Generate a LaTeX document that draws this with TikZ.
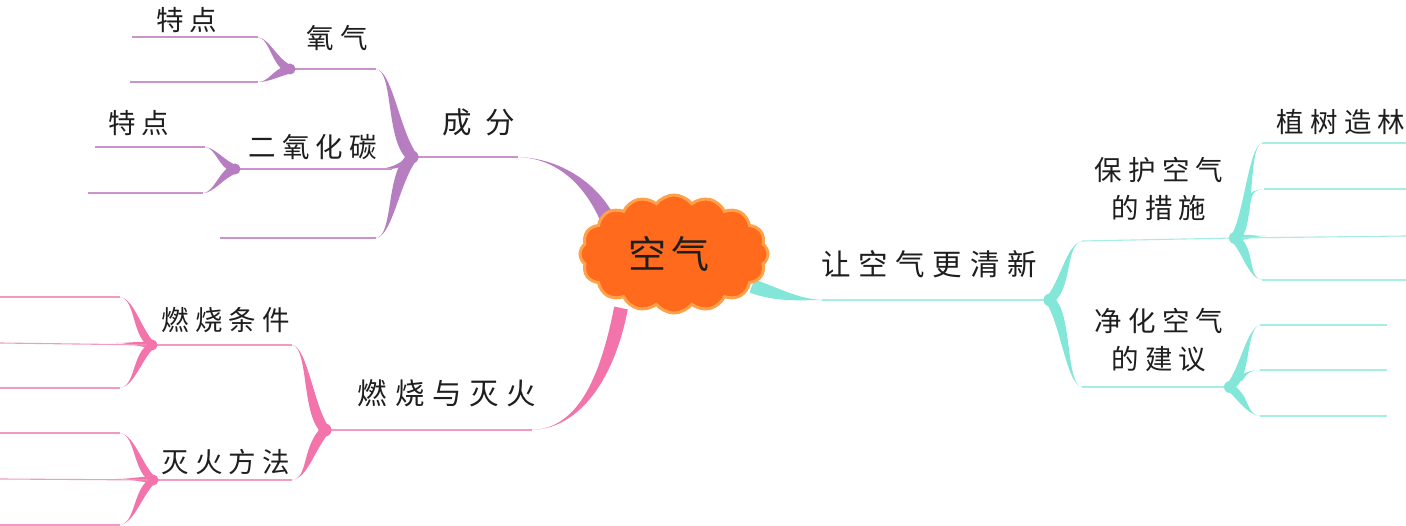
\documentclass[tikz,border=0pt]{standalone}
\usepackage{fontspec}
\usetikzlibrary{calc,shapes.symbols}
\newfontfamily\cjk[LetterSpace=22]{Noto Sans CJK SC}
\newfontfamily\cjkm[LetterSpace=26]{Noto Sans CJK SC}
\newfontfamily\cjkw[LetterSpace=45]{Noto Sans CJK SC}
\newfontfamily\cjkc[LetterSpace=15]{Noto Sans CJK SC}
\definecolor{pur}{HTML}{B77DC1}
\definecolor{purl}{HTML}{C894C9}
\definecolor{pnk}{HTML}{F274AA}
\definecolor{pnkl}{HTML}{F29AC3}
\definecolor{cyn}{HTML}{82E6D8}
\definecolor{cynl}{HTML}{A6EDE3}
\definecolor{orf}{HTML}{FF6A1C}
\definecolor{ore}{HTML}{FFA04A}
\definecolor{txt}{HTML}{1E1E1E}
\newcommand\arm[5]{\fill ($(#1)+(#5)$) .. controls ($(#2)+(#5)$) and (#3) .. (#4) .. controls (#3) and ($(#2)-(#5)$) .. ($(#1)-(#5)$) -- cycle;}
\tikzset{
  lab/.style={font=\cjk\fontsize{27.5}{38}\selectfont, text=txt, inner sep=0pt, align=center},
  mainlab/.style={font=\cjkm\fontsize{29.5}{34}\selectfont, text=txt, inner sep=0pt},
  thin/.style={line width=1.1pt},
  blob/.style={radius=6.5}
}
\begin{document}
\begin{tikzpicture}[x=1pt,y=-1pt]
\useasboundingbox (0,0) rectangle (1406,526);
\fill[white] (0,0) rectangle (1406,526);

% ---------- coordinates ----------
\coordinate (bP) at (412,157);
\coordinate (bO) at (290,69);
\coordinate (bC) at (235,169);
\coordinate (bF) at (325,430);
\coordinate (bR) at (152,345);
\coordinate (bM) at (153,480);
\coordinate (bG) at (1050,300);
\coordinate (bS1) at (1235,238);
\coordinate (bS2) at (1230,387);

% ---------- purple branch ----------
\begin{scope}[fill=pur, draw=purl]
  \draw[thin] (bP) -- (518,157);
  \arm{612,230}{598,190}{562,157}{515,157}{7,-2.7}
  \arm{bP}{393,135}{393,71}{376,69}{7,0}
  \arm{bP}{393,178}{393,236}{376,238}{7,0}
  \arm{bP}{398,168}{390,169}{374,169}{0,3}
  \draw[thin] (bO) -- (376,69);
  \draw[thin] (bC) -- (392,169);
  \draw[thin] (376,238) -- (220,238);
  \fill (bP) circle[blob];
  % oxygen
  \arm{bO}{275,64}{270,39}{258,37}{3,-3}
  \arm{bO}{275,73}{269,82}{258,82}{2,4}
  \draw[thin] (258,37) -- (132,37);
  \draw[thin] (258,82) -- (130,82);
  \fill (bO) circle[radius=5.5];
  % carbon dioxide
  \arm{bC}{221,164}{216,148}{205,147}{3,-3}
  \arm{bC}{221,174}{214,193}{203,193}{2,4}
  \draw[thin] (205,147) -- (95,147);
  \draw[thin] (203,193) -- (88,193);
  \fill (bC) circle[radius=5.5];
\end{scope}

% ---------- pink branch ----------
\begin{scope}[fill=pnk, draw=pnkl]
  \draw[thin] (bF) -- (532,430);
  \arm{621,308}{606,385}{575,430}{530,430}{6.8,1.4}
  \arm{bF}{308,410}{308,347}{292,345}{6,0}
  \arm{bF}{308,450}{308,478}{292,480}{6,0}
  \draw[thin] (292,345) -- (bR);
  \draw[thin] (292,480) -- (bM);
  \fill (bF) circle[blob];
  % burning conditions
  \arm{bR}{137,333}{135,299}{120,297}{5,0}
  \arm{bR}{137,357}{135,386}{120,388}{5,0}
  \arm{bR}{140,344}{130,343}{116,343}{0,3}
  \draw[thin] (120,297) -- (0,297);
  \draw[thin] (bR) -- (0,343);
  \draw[thin] (120,388) -- (0,388);
  \fill (bR) circle[radius=5.5];
  % extinguishing methods
  \arm{bM}{138,468}{135,435}{120,433}{5,0}
  \arm{bM}{138,492}{135,523}{120,525}{5,0}
  \arm{bM}{141,479}{131,479}{116,479}{0,3}
  \draw[thin] (120,433) -- (0,433);
  \draw[thin] (bM) -- (0,479);
  \draw[thin] (120,525) -- (0,525);
  \fill (bM) circle[radius=5.5];
\end{scope}

% ---------- cyan branch ----------
\begin{scope}[fill=cyn, draw=cynl]
  \draw[thin] (822,300) -- (bG);
  \arm{752,286}{780,296}{800,300}{826,300}{-2.4,6.6}
  \arm{bG}{1066,284}{1066,244}{1082,241}{6,0}
  \arm{bG}{1066,318}{1066,385}{1082,387}{6,0}
  \draw[thin] (1082,241) -- (bS1);
  \draw[thin] (1082,387) -- (bS2);
  \fill (bG) circle[blob];
  % protection measures
  \arm{bS1}{1249,225}{1248,146}{1262,143}{6,0}
  \arm{bS1}{1249,252}{1248,278}{1262,280}{6,0}
  \arm{1246,214}{1248,193}{1253,189}{1266,189}{3,0}
  \arm{bS1}{1246,237}{1255,236}{1266,236}{0,3}
  \draw[thin] (1262,143) -- (1406,143);
  \draw[thin] (1264,189) -- (1406,189);
  \draw[thin] (bS1) -- (1406,236);
  \draw[thin] (1262,280) -- (1406,280);
  \fill (bS1) circle[radius=6];
  % purification suggestions
  \arm{bS2}{1245,374}{1246,328}{1260,325}{6,0}
  \arm{bS2}{1245,400}{1246,414}{1260,416}{6,0}
  \arm{1239,381}{1245,372}{1251,370}{1262,370}{3,0}
  \draw[thin] (1260,325) -- (1387,325);
  \draw[thin] (1260,370) -- (1387,370);
  \draw[thin] (1260,416) -- (1387,416);
  \fill (bS2) circle[radius=6];
\end{scope}

% ---------- central cloud ----------
\node[cloud, cloud puffs=16, cloud puff arc=105, aspect=1.6,
      minimum width=188pt, minimum height=118pt, inner sep=0pt,
      fill=orf, draw=ore, line width=3pt,
      font=\cjkc\fontsize{38}{42}\selectfont, text=txt] (core) at (674,254) {\hspace*{-10pt}空气};

% ---------- labels ----------
\node[lab] (td1) at (187,20) {特点};
\node[lab] (o2) at (337,38) {氧气};
\node[lab] (td2) at (139,123) {特点};
\node[lab] (co2) at (313,147) {二氧化碳};
\node[mainlab, font=\cjkw\fontsize{29.5}{34}\selectfont] (cf) at (479,122) {成分};
\node[lab] (rstj) at (226,320) {燃烧条件};
\node[lab] (mhff) at (226,462) {灭火方法};
\node[mainlab] (rsmh) at (447,393) {燃烧与灭火};
\node[mainlab] (rkq) at (929,264) {让空气更清新};
\node[lab] (bhkq) at (1159,189) {保护空气\\的措施};
\node[lab] (jhkq) at (1159,340) {净化空气\\的建议};
\node[lab] (zszl) at (1341,122) {植树造林};
\end{tikzpicture}
\end{document}
